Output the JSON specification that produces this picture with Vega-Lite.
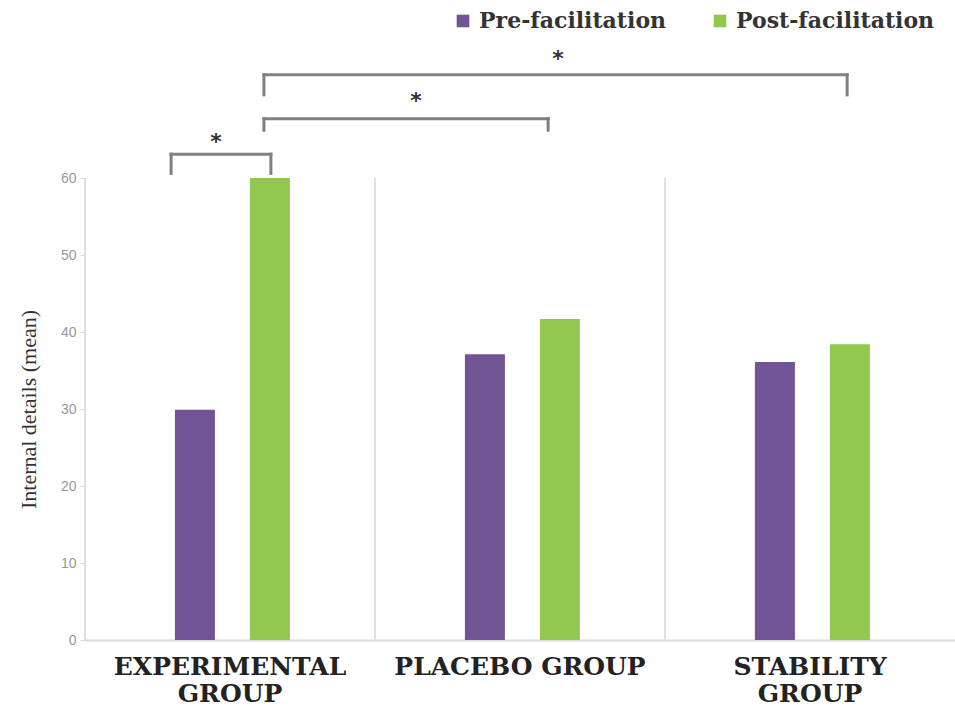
{
  "$schema": "https://vega.github.io/schema/vega-lite/v6.json",
  "width": 870,
  "height": 462,
  "autosize": {"type": "none"},
  "padding": {"left": 85, "top": 178, "right": 0, "bottom": 69},
  "background": "white",
  "config": {"view": {"stroke": null}},
  "datasets": {
    "bars": [
      {"group": "EXPERIMENTAL GROUP", "phase": "Pre-facilitation", "value": 29.9},
      {"group": "EXPERIMENTAL GROUP", "phase": "Post-facilitation", "value": 60},
      {"group": "PLACEBO GROUP", "phase": "Pre-facilitation", "value": 37.1},
      {"group": "PLACEBO GROUP", "phase": "Post-facilitation", "value": 41.7},
      {"group": "STABILITY GROUP", "phase": "Pre-facilitation", "value": 36.1},
      {"group": "STABILITY GROUP", "phase": "Post-facilitation", "value": 38.4}
    ],
    "brackets": [
      {"x": 0.297, "x2": 0.641, "y": 63.1, "y2": 63.1},
      {"x": 0.297, "x2": 0.297, "y": 63.1, "y2": 60.6},
      {"x": 0.641, "x2": 0.641, "y": 63.1, "y2": 60.6},
      {"x": 0.617, "x2": 1.597, "y": 67.7, "y2": 67.7},
      {"x": 0.617, "x2": 0.617, "y": 67.7, "y2": 66.2},
      {"x": 1.597, "x2": 1.597, "y": 67.7, "y2": 66.2},
      {"x": 0.617, "x2": 2.628, "y": 73.4, "y2": 73.4},
      {"x": 0.617, "x2": 0.617, "y": 73.4, "y2": 70.8},
      {"x": 2.628, "x2": 2.628, "y": 73.4, "y2": 70.8}
    ],
    "stars": [
      {"x": 0.452, "y": 65.2, "label": "*"},
      {"x": 1.141, "y": 70.5, "label": "*"},
      {"x": 1.631, "y": 76.0, "label": "*"}
    ]
  },
  "layer": [
    {
      "data": {"name": "bars"},
      "layer": [
        {
          "mark": {"type": "bar", "width": 40},
          "encoding": {
            "x": {
              "field": "group",
              "type": "nominal",
              "sort": null,
              "scale": {"paddingInner": 0, "paddingOuter": 0},
              "axis": {
                "title": null,
                "labelAngle": 0,
                "labelFont": "DejaVu Serif",
                "labelFontWeight": "bold",
                "labelFontSize": 25,
                "labelColor": "#222222",
                "labelLineHeight": 27,
                "labelPadding": 14,
                "labelLimit": 400,
                "labelExpr": "datum.label == 'PLACEBO GROUP' ? datum.label : split(datum.label, ' ')",
                "ticks": false,
                "domainColor": "#d9d9d9",
                "domainWidth": 2,
                "grid": false
              }
            },
            "xOffset": {
              "field": "phase",
              "type": "nominal",
              "sort": ["Pre-facilitation", "Post-facilitation"],
              "scale": {"paddingInner": 0.133, "paddingOuter": 1, "align": 0.516}
            },
            "y": {
              "field": "value",
              "type": "quantitative",
              "scale": {"domain": [0, 60], "nice": false},
              "axis": {
                "title": "Internal details (mean)",
                "titleFont": "Liberation Serif",
                "titleFontSize": 22,
                "titleFontWeight": "normal",
                "titleColor": "#333333",
                "titlePadding": 20,
                "values": [0, 10, 20, 30, 40, 50, 60],
                "labelFont": "Liberation Sans",
                "labelFontSize": 14,
                "labelColor": "#999999",
                "labelPadding": 4,
                "tickColor": "#d9d9d9",
                "tickSize": 5,
                "domainColor": "#d9d9d9",
                "grid": false
              }
            },
            "color": {
              "field": "phase",
              "type": "nominal",
              "scale": {"domain": ["Pre-facilitation", "Post-facilitation"], "range": ["#705494", "#92c850"]},
              "legend": {
                "orient": "none",
                "legendX": 367,
                "legendY": -168,
                "direction": "horizontal",
                "title": null,
                "symbolType": "square",
                "symbolSize": 160,
                "symbolStrokeWidth": 0,
                "symbolOpacity": 1,
                "labelFont": "DejaVu Serif",
                "labelFontWeight": "bold",
                "labelFontSize": 22,
                "labelColor": "#333333",
                "labelOffset": 5,
                "columnPadding": 42,
                "labelLimit": 300
              }
            }
          }
        },
        {
          "mark": {"type": "rule", "color": "#dedede", "strokeWidth": 1.5},
          "encoding": {
            "x": {"field": "group", "type": "nominal", "bandPosition": 0, "sort": null},
            "y": {"datum": 0, "type": "quantitative", "scale": {"domain": [0, 60], "nice": false}},
            "y2": {"datum": 60}
          }
        }
      ]
    },
    {
      "layer": [
        {
          "data": {"name": "brackets"},
          "mark": {"type": "rule", "color": "#808080", "strokeWidth": 3, "strokeCap": "square"},
          "encoding": {
            "x": {"field": "x", "type": "quantitative", "scale": {"domain": [0, 3], "nice": false, "zero": false}, "axis": null},
            "x2": {"field": "x2"},
            "y": {"field": "y", "type": "quantitative", "scale": {"domain": [0, 60], "nice": false}},
            "y2": {"field": "y2"}
          }
        },
        {
          "data": {"name": "stars"},
          "mark": {"type": "text", "font": "DejaVu Sans", "fontWeight": "bold", "fontSize": 22, "color": "#333333", "baseline": "alphabetic", "dy": 11},
          "encoding": {
            "x": {"field": "x", "type": "quantitative", "axis": null},
            "y": {"field": "y", "type": "quantitative", "scale": {"domain": [0, 60], "nice": false}},
            "text": {"field": "label"}
          }
        }
      ]
    }
  ],
  "resolve": {"scale": {"x": "independent"}}
}
